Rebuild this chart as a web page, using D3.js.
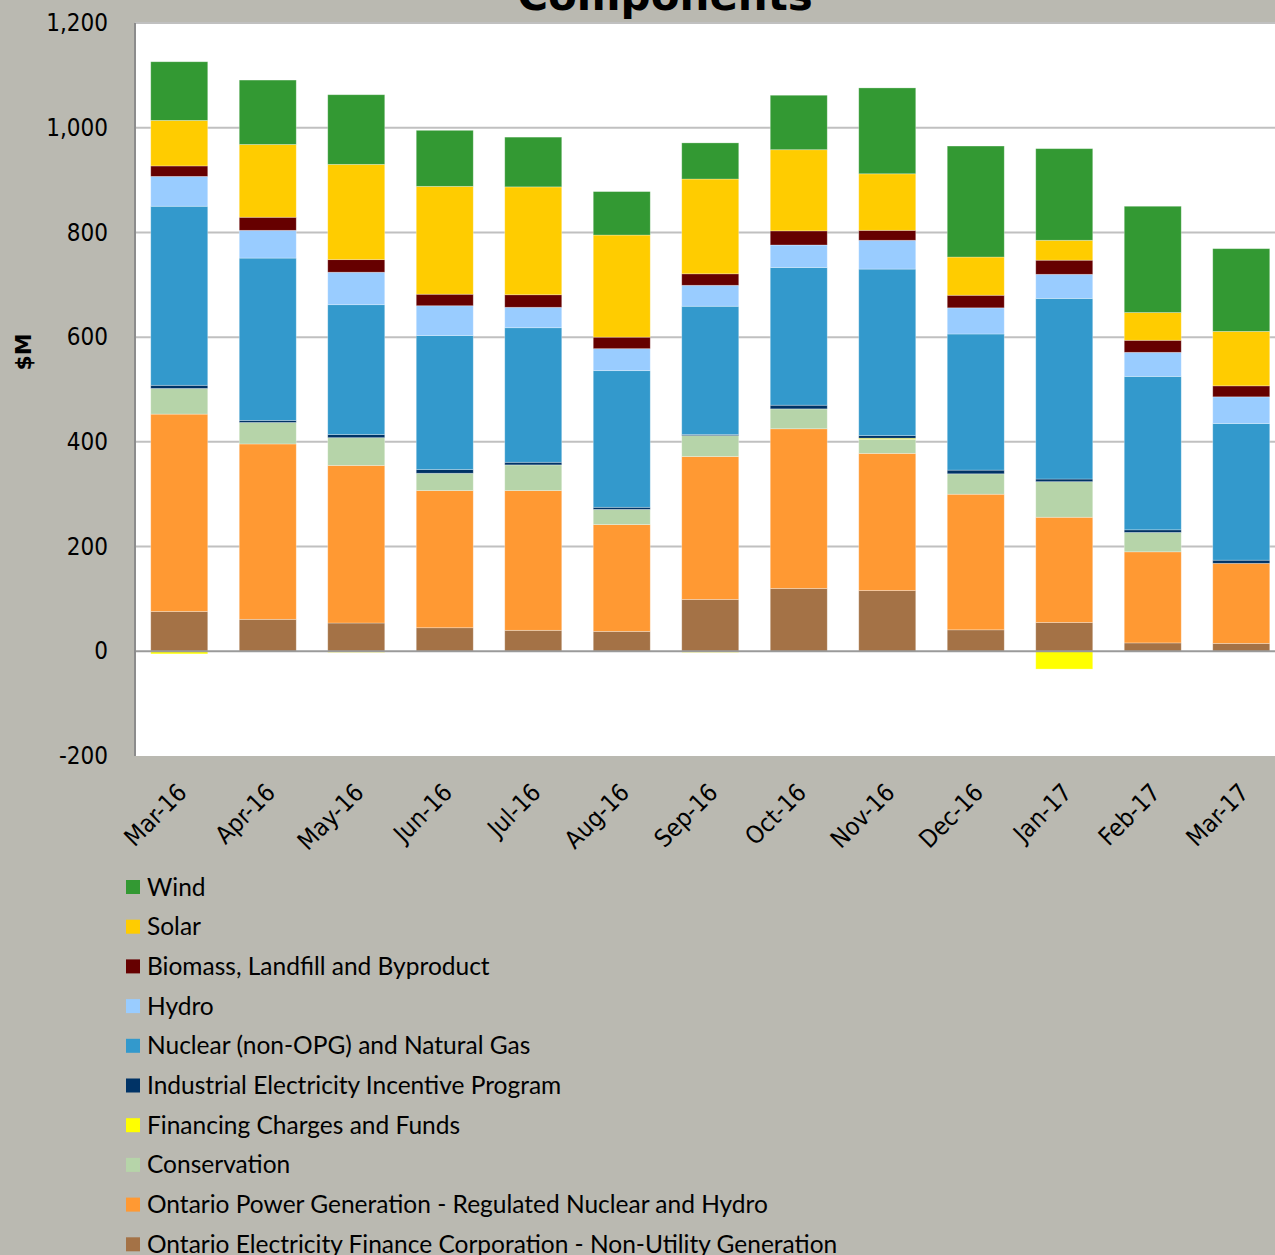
<!DOCTYPE html>
<html>
<head>
<meta charset="utf-8">
<script src="https://cdn.jsdelivr.net/npm/d3@7.9.0/dist/d3.min.js"></script>
<style>
  html, body { margin: 0; padding: 0; background: #bab9b1; }
  svg { display: block; }
</style>
</head>
<body>
<svg id="chart" width="1275" height="1255"></svg>
<script>
// months on the x axis
const months = ['Mar-16','Apr-16','May-16','Jun-16','Jul-16','Aug-16','Sep-16',
                'Oct-16','Nov-16','Dec-16','Jan-17','Feb-17','Mar-17'];

// series values ($M)
const oefc      = [76, 61, 54, 45, 40, 38, 99, 120, 116, 41, 55, 16, 15];
const opg       = [377, 335, 301, 262, 267, 204, 273, 305, 262, 259, 201, 174, 153];
const conserv   = [49, 41, 53, 33, 49, 29, 40, 38, 27, 39, 68, 37, 0];
const financing = [-5, 0, -2, 0, 0, 0, -2, 0, 2, 0, -34, 0, 0];
const ieip      = [6, 4, 6, 7, 5, 4, 2, 7, 5, 7, 5, 5, 6];
const nuclear   = [342, 310, 248, 256, 257, 261, 245, 263, 318, 260, 345, 293, 261];
const hydro     = [57, 53, 62, 57, 39, 42, 40, 43, 55, 50, 46, 46, 51];
const biomass   = [20, 25, 24, 22, 24, 22, 22, 27, 19, 24, 27, 23, 21];
const solar     = [87, 139, 182, 206, 206, 195, 181, 155, 108, 73, 38, 53, 104];
const wind      = [112, 123, 133, 107, 95, 83, 69, 104, 164, 212, 175, 203, 158];

const yTicks = [-200, 0, 200, 400, 600, 800, 1000, 1200];

// stack order bottom -> top
const series = [
  { key: 'oefc',  name: 'Ontario Electricity Finance Corporation - Non-Utility Generation', values: oefc,      color: '#a47246' },
  { key: 'opg',   name: 'Ontario Power Generation - Regulated Nuclear and Hydro',          values: opg,       color: '#ff9933' },
  { key: 'cons',  name: 'Conservation',                                                    values: conserv,   color: '#b6d4a9' },
  { key: 'fin',   name: 'Financing Charges and Funds',                                     values: financing, color: '#ffff00' },
  { key: 'ieip',  name: 'Industrial Electricity Incentive Program',                        values: ieip,      color: '#003366' },
  { key: 'nuc',   name: 'Nuclear (non-OPG) and Natural Gas',                               values: nuclear,   color: '#3399cc' },
  { key: 'hydro', name: 'Hydro',                                                           values: hydro,     color: '#99ccff' },
  { key: 'bio',   name: 'Biomass, Landfill and Byproduct',                                 values: biomass,   color: '#660000' },
  { key: 'solar', name: 'Solar',                                                           values: solar,     color: '#ffcc00' },
  { key: 'wind',  name: 'Wind',                                                            values: wind,      color: '#339933' }
];

const table = months.map((m, i) => {
  const row = { month: m };
  series.forEach(s => { row[s.key] = s.values[i]; });
  return row;
});

const svg = d3.select('#chart');
const plot = { left: 135, top: 23, bottom: 756 };

const x = d3.scaleBand()
  .domain(months)
  .range([plot.left, plot.left + months.length * 88.5])
  .paddingInner(0.356)
  .paddingOuter(0.178);

const y = d3.scaleLinear()
  .domain([-200, 1200])
  .range([plot.bottom, plot.top]);

const fmt = d3.formatLocale({ decimal: '.', thousands: ',', grouping: [3], currency: ['$', ''], minus: '-' }).format(',');

// plot area
svg.append('rect')
  .attr('x', plot.left).attr('y', plot.top)
  .attr('width', 1275 - plot.left).attr('height', plot.bottom - plot.top)
  .attr('fill', '#ffffff');

// gridlines
svg.append('g')
  .selectAll('line')
  .data(yTicks.filter(t => t !== 0 && t !== -200))
  .join('line')
    .attr('x1', plot.left).attr('x2', 1275)
    .attr('y1', d => y(d)).attr('y2', d => y(d))
    .attr('stroke', '#c0c0c0')
    .attr('stroke-width', 2);

// bars
const stack = d3.stack()
  .keys(series.map(s => s.key))
  .offset(d3.stackOffsetDiverging);
const stacked = stack(table);

svg.append('g')
  .selectAll('g')
  .data(stacked)
  .join('g')
    .attr('fill', (d, i) => series[i].color)
  .selectAll('rect')
  .data(d => d)
  .join('rect')
    .attr('x', d => x(d.data.month))
    .attr('width', x.bandwidth())
    .attr('y', d => y(Math.max(d[0], d[1])))
    .attr('height', d => Math.abs(y(d[0]) - y(d[1])))
    .attr('stroke', 'rgba(255,255,255,0.35)')
    .attr('stroke-width', 0.8);

// zero line
svg.append('line')
  .attr('x1', plot.left).attr('x2', 1275)
  .attr('y1', y(0)).attr('y2', y(0))
  .attr('stroke', '#9a9a9a')
  .attr('stroke-width', 2);

// left axis line
svg.append('line')
  .attr('x1', plot.left).attr('x2', plot.left)
  .attr('y1', plot.top).attr('y2', plot.bottom)
  .attr('stroke', '#8c8c8c')
  .attr('stroke-width', 2);

// y axis labels
const yAxis = svg.append('g')
  .attr('transform', `translate(${plot.left},0)`)
  .call(d3.axisLeft(y).tickValues(yTicks).tickFormat(fmt).tickSize(0).tickPadding(27));
yAxis.select('.domain').remove();
yAxis.selectAll('text')
  .attr('fill', '#000')
  .style('font-family', '"DejaVu Sans Condensed", "DejaVu Sans", sans-serif')
  .style('font-size', '24px');

// x axis labels, rotated
const xAxis = svg.append('g')
  .attr('transform', `translate(0,${plot.bottom})`)
  .call(d3.axisBottom(x).tickSize(0).tickPadding(0));
xAxis.select('.domain').remove();
xAxis.selectAll('text')
  .attr('fill', '#000')
  .attr('text-anchor', 'end')
  .attr('dy', 0)
  .attr('transform', 'translate(9,38) rotate(-45)')
  .style('font-family', '"DejaVu Sans Condensed", "DejaVu Sans", sans-serif')
  .style('font-size', '24.5px');

// y title
svg.append('text')
  .attr('transform', 'translate(31,352) rotate(-90)')
  .attr('text-anchor', 'middle')
  .style('font-family', '"DejaVu Sans", sans-serif')
  .style('font-weight', 'bold')
  .style('font-size', '22px')
  .text('$M');

// chart title (cut off at top)
svg.append('text')
  .attr('x', 665)
  .attr('y', 10)
  .attr('text-anchor', 'middle')
  .style('font-family', '"DejaVu Sans", sans-serif')
  .style('font-weight', 'bold')
  .style('font-size', '42px')
  .text('Components');

// legend, top of stack first
const legend = svg.append('g')
  .selectAll('g')
  .data(series.slice().reverse())
  .join('g')
    .attr('transform', (d, i) => `translate(126,${887 + i * 39.7})`);

legend.append('rect')
  .attr('x', 0).attr('y', -7)
  .attr('width', 14).attr('height', 14)
  .attr('fill', d => d.color);

legend.append('text')
  .attr('x', 21)
  .attr('dy', '0.35em')
  .style('font-family', 'Lato, sans-serif')
  .style('font-size', '24.5px')
  .attr('fill', '#000')
  .text(d => d.name);
</script>
</body>
</html>
